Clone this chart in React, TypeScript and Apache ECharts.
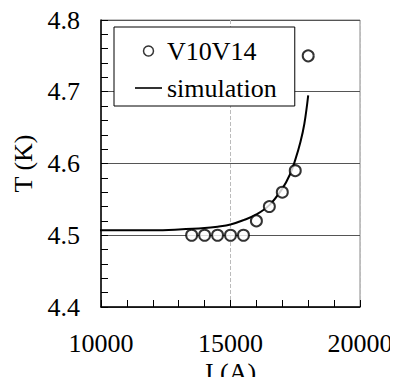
import React, { useEffect, useRef } from "react";
import * as echarts from "echarts";

const measuredI = [13500, 14000, 14500, 15000, 15500, 16000, 16500, 17000, 17500, 18000];
const measuredT = [4.5, 4.5, 4.5, 4.5, 4.5, 4.52, 4.54, 4.56, 4.59, 4.75];

const simI = [9850, 11000, 12000, 13000, 14000, 14500, 15000, 15500, 16000, 16500, 17000, 17300, 17500, 17700, 17850, 18000];
const simT = [4.507, 4.507, 4.507, 4.508, 4.51, 4.512, 4.515, 4.521, 4.529, 4.542, 4.565, 4.585, 4.605, 4.63, 4.655, 4.695];

const xTicks = [10000, 15000, 20000];
const yTicks = [4.4, 4.5, 4.6, 4.7, 4.8];

const FONT = "Liberation Serif";

export default function App() {
  const ref = useRef<HTMLDivElement>(null);
  useEffect(() => {
    if (!ref.current) return;
    const chart = echarts.init(ref.current, undefined, { renderer: "svg" });
    const textBase = { fontFamily: FONT, fontSize: 26, color: "#000" };
    chart.setOption({
      animation: false,
      textStyle: { fontFamily: FONT },
      grid: {
        left: 101, right: 38, top: 20, bottom: 78,
        containLabel: false,
        outerBoundsMode: "none",
        show: true, borderColor: "#888", borderWidth: 1, backgroundColor: "transparent",
      },
      legend: {
        orient: "vertical",
        left: 114, top: 27,
        padding: [9, 18, 3, 21],
        itemGap: 7,
        itemWidth: 27,
        itemHeight: 10,
        backgroundColor: "#fff",
        borderColor: "#000",
        borderWidth: 1,
        borderRadius: 0,
        textStyle: { ...textBase, lineHeight: 30 },
        data: [
          { name: "V10V14", icon: "circle", itemStyle: { color: "#fff", borderColor: "#000", borderWidth: 1.5 } },
          {
            name: "simulation",
            icon: "path://M0,0 L0,0 M0,10 L0,10 M0,4.2 L27,4.2 L27,5.8 L0,5.8 Z",
            itemStyle: { color: "#000", borderWidth: 0 },
          },
        ],
      },
      xAxis: {
        type: "value",
        min: xTicks[0], max: xTicks[xTicks.length - 1], interval: xTicks[1] - xTicks[0],
        name: "I (A)", nameLocation: "middle", nameGap: 52,
        nameMoveOverlap: false,
        nameTextStyle: { ...textBase, lineHeight: 26 },
        axisLabel: { ...textBase, margin: 23, formatter: (v: number) => String(v) },
        axisLine: { lineStyle: { color: "#000", width: 1.5 } },
        axisTick: { show: true, inside: true, length: 7, lineStyle: { color: "#000" } },
        minorTick: { show: true, splitNumber: 5, length: 7, lineStyle: { color: "#000" } },
        splitLine: { show: true, lineStyle: { color: "#bbb", type: "dashed", width: 1 } },
      },
      yAxis: {
        type: "value",
        min: yTicks[0], max: yTicks[yTicks.length - 1], interval: 0.1,
        name: "T (K)", nameLocation: "middle", nameGap: 60,
        nameTextStyle: textBase,
        axisLabel: { ...textBase, margin: 21, formatter: (v: number) => v.toFixed(1) },
        axisLine: { show: true, lineStyle: { color: "#000", width: 1.5 } },
        axisTick: { show: true, inside: true, length: 7, lineStyle: { color: "#000" } },
        minorTick: { show: true, splitNumber: 5, length: 7, lineStyle: { color: "#000" } },
        splitLine: { show: true, lineStyle: { color: "#555", width: 1 } },
      },
      series: [
        {
          name: "V10V14",
          type: "scatter",
          symbol: "emptyCircle",
          symbolSize: 11,
          itemStyle: { color: "#000", borderColor: "#000", borderWidth: 1.6 },
          data: measuredI.map((x, i) => [x, measuredT[i]]),
          z: 3,
        },
        {
          name: "simulation",
          type: "line",
          smooth: 0.4,
          symbol: "none",
          showSymbol: false,
          clip: false,
          lineStyle: { color: "#000", width: 2 },
          itemStyle: { color: "#000" },
          data: simI.map((x, i) => [x, simT[i]]),
          z: 2,
        },
      ],
    });
    return () => chart.dispose();
  }, []);
  return <div ref={ref} style={{ width: 398, height: 385, margin: -8 }} />;
}
